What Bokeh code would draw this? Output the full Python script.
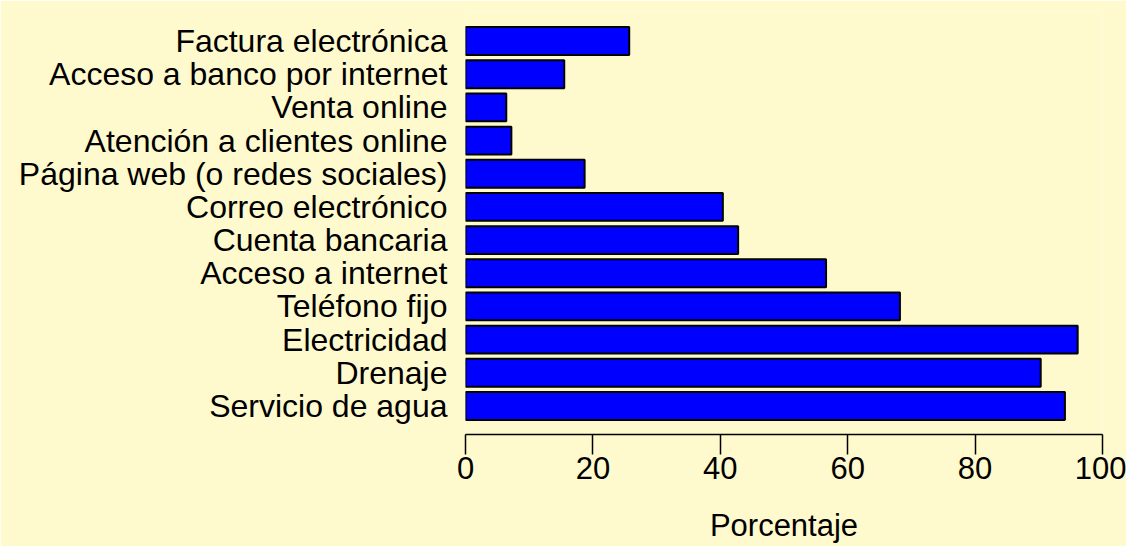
from bokeh.plotting import figure
from bokeh.models import FactorRange, Range1d, FixedTicker
from bokeh.embed import file_html
from bokeh.resources import INLINE

# Categories listed top-to-bottom as in the chart
categories = [
    "Factura electrónica",
    "Acceso a banco por internet",
    "Venta online",
    "Atención a clientes online",
    "Página web (o redes sociales)",
    "Correo electrónico",
    "Cuenta bancaria",
    "Acceso a internet",
    "Teléfono fijo",
    "Electricidad",
    "Drenaje",
    "Servicio de agua",
]
percentages = [25.7, 15.5, 6.4, 7.2, 18.7, 40.4, 42.8, 56.6, 68.2, 96.1, 90.3, 94.1]
x_ticks = [0, 20, 40, 60, 80, 100]
x_label = "Porcentaje"

BG = "#FFFACD"
FONT = "Liberation Sans"

factors = list(reversed(categories))

p = figure(
    width=1126, height=546,
    y_range=FactorRange(factors=factors, range_padding=0.06),
    x_range=Range1d(0, 100),
    output_backend="svg", toolbar_location=None,
    min_border_left=465, min_border_right=24,
    min_border_top=12, min_border_bottom=112,
)
p.background_fill_color = BG
p.border_fill_color = BG
p.outline_line_color = None
p.xgrid.visible = False
p.ygrid.visible = False

p.hbar(y=categories, right=percentages, left=0, height=0.84,
       fill_color="#0000FF", line_color="black", line_width=2)

# x axis (R style)
xa = p.xaxis[0]
xa.ticker = FixedTicker(ticks=x_ticks)
xa.axis_line_color = "black"
xa.axis_line_width = 1.5
xa.major_tick_line_color = "black"
xa.major_tick_line_width = 1.5
xa.major_tick_out = 20
xa.major_tick_in = 0
xa.minor_tick_line_color = None
xa.major_label_standoff = 2
xa.major_label_text_font = FONT
xa.major_label_text_font_size = "31px"
xa.major_label_text_color = "black"
xa.axis_label = x_label
xa.axis_label_text_font = FONT
xa.axis_label_text_font_size = "31px"
xa.axis_label_text_font_style = "normal"
xa.axis_label_text_color = "black"
xa.axis_label_text_line_height = 0.8
xa.axis_label_standoff = 26

# y axis: labels only
ya = p.yaxis[0]
ya.axis_line_color = None
ya.major_tick_line_color = None
ya.minor_tick_line_color = None
ya.major_tick_out = 0
ya.major_tick_in = 0
ya.major_label_standoff = 18
ya.major_label_text_font = FONT
ya.major_label_text_font_size = "32px"
ya.major_label_text_color = "black"

open("out.html", "w").write(file_html(p, INLINE))
